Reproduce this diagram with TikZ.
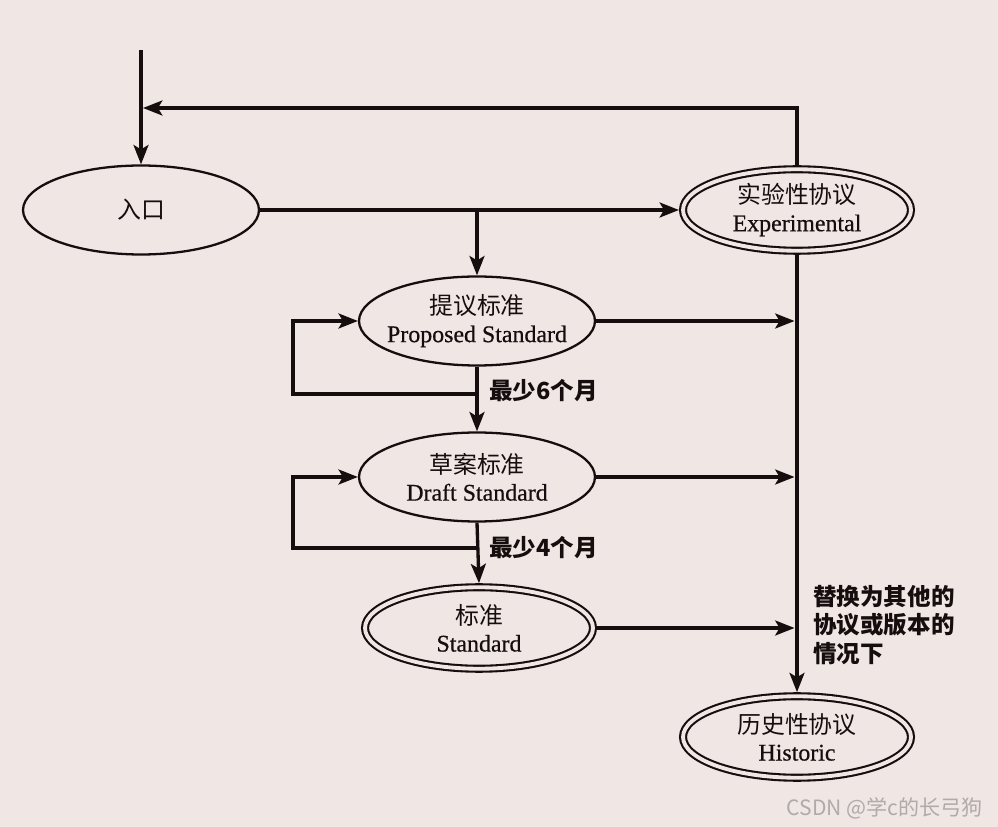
\documentclass[tikz,border=0pt]{standalone}
\usepackage{fontspec}
\setmainfont{Liberation Serif}[FakeBold=0.6]
\newfontfamily\cjk{Noto Sans CJK SC}
\usetikzlibrary{shapes.geometric,arrows.meta}
\definecolor{paper}{RGB}{240,230,228}
\definecolor{inkc}{RGB}{22,14,14}
\definecolor{wmgrey}{RGB}{176,170,170}

\tikzset{
  stage/.style={ellipse, draw=inkc, line width=1.3pt, minimum width=4.72cm, minimum height=1.78cm,
    inner xsep=-4pt, inner ysep=0pt, align=center, text=inkc, font=\fontsize{13.6}{15.5}\selectfont},
  final/.style={stage, double=paper, line width=1.2pt, double distance=2.2pt,
    minimum width=4.56cm, minimum height=1.63cm, outer sep=2.3pt},
  flow/.style={draw=inkc, line width=1.9pt, -{Stealth[length=11pt,width=8.5pt,inset=2.5pt]}},
  tojoin/.style={flow, shorten >=1.4pt},
  note/.style={anchor=west, align=left, inner sep=0pt, text=inkc,
    font=\cjk\bfseries\fontsize{13.4}{16}\selectfont}
}

\begin{document}
\begin{tikzpicture}[x=0.02cm, y=-0.02cm]
  \fill[paper] (0,0) rectangle (998,827);

  % states
  \node[stage] (entry) at (141,210) {{\cjk 入口}};
  \node[final] (exp) at (797,210) {{\cjk 实验性协议}\\Experimental};
  \node[stage] (prop) at (477,321) {{\cjk 提议标准}\\Proposed Standard};
  \node[stage] (draft) at (477,477) {{\cjk 草案标准}\\Draft Standard};
  \node[final] (std) at (479,628) {{\cjk 标准}\\Standard};
  \node[final] (hist) at (797,737) {{\cjk 历史性协议}\\Historic};

  \coordinate (start) at (141,50);
  \coordinate (back) at (143,108);
  \coordinate (fork) at (477,210);
  \coordinate (stay1) at (477,394);
  \coordinate (hold1) at (293,394);
  \coordinate (stay2) at (477,548);
  \coordinate (hold2) at (293,548);

  % entry and return
  \draw[flow] (start) -- (entry.north);
  \draw[flow] (exp.north) |- (back);
  \draw[flow] (entry.east) -- (exp.west);
  \draw[flow] (fork) -- (prop.north);

  % standards track
  \draw[flow] (prop.south) -- (draft.north);
  \draw[flow] (stay1) -- (hold1) |- (prop.west);
  \draw[flow] (draft.south) -- (std.north);
  \draw[flow] (stay2) -- (hold2) |- (draft.west);

  % to historic
  \draw[flow] (exp.south) -- (hist.north);
  \draw[tojoin] (prop.east) -- (prop.east -| exp.south);
  \draw[tojoin] (draft.east) -- (draft.east -| exp.south);
  \draw[tojoin] (std.east) -- (std.east -| exp.south);

  \node[note] (six) at (489,391) {最少6个月};
  \node[note] (four) at (489,548) {最少4个月};
  \node[note] (why) at (813,625) {替换为其他的\\协议或版本的\\情况下};

  \node[anchor=east, inner sep=0pt, text=wmgrey, font=\cjk\fontsize{12}{14}\selectfont] (mark) at (983,808) {CSDN @学c的长弓狗};
\end{tikzpicture}
\end{document}
